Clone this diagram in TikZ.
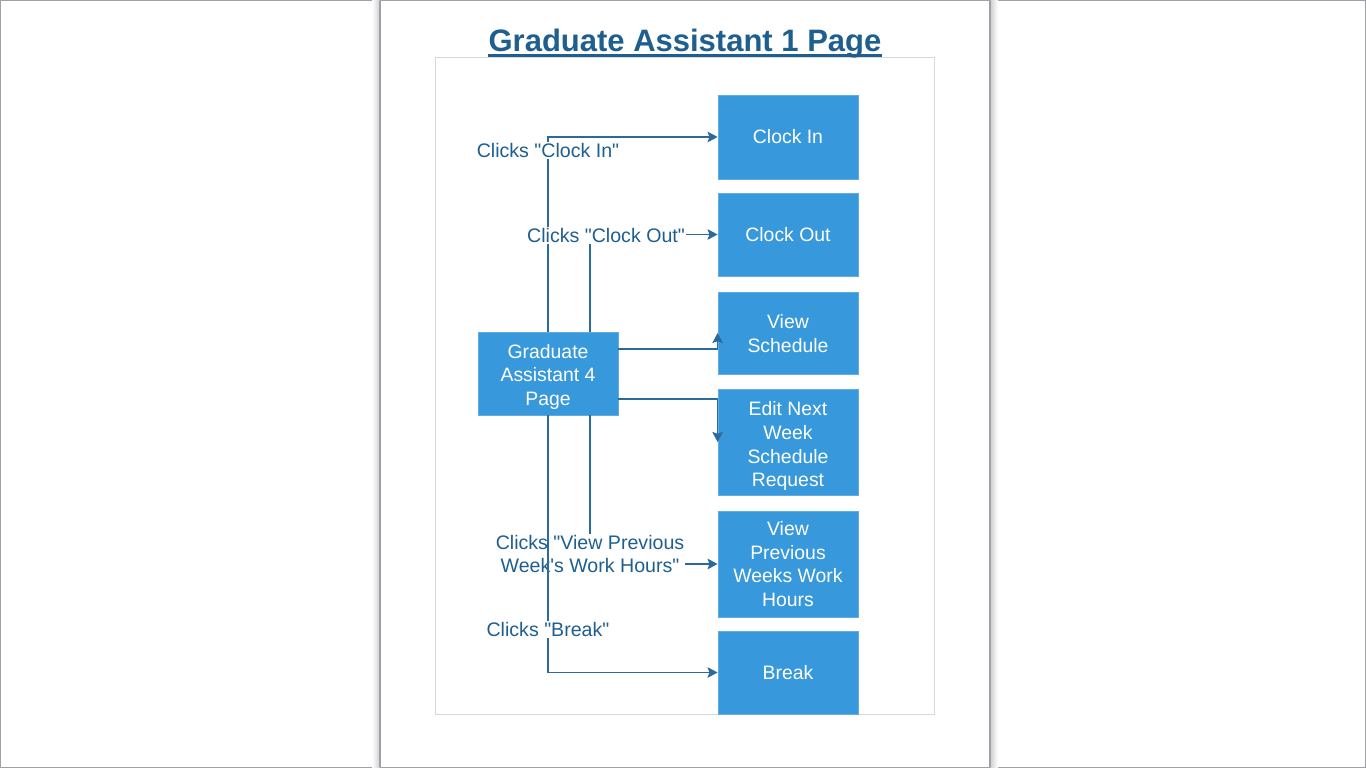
\documentclass[tikz,border=0pt]{standalone}
\usepackage{fontspec}
\setmainfont{Liberation Sans}
\usetikzlibrary{arrows.meta}
\definecolor{boxblue}{RGB}{55,152,219}
\definecolor{linec}{RGB}{43,106,155}
\definecolor{textc}{RGB}{31,95,143}
\definecolor{pagegray}{RGB}{160,160,168}
\definecolor{framegray}{RGB}{216,216,216}
\newcommand\qd{\textquotedbl}
\newcommand\lines[2]{\raisebox{#1}[\height][\depth]{\begin{tabular}{@{}c@{}}#2\end{tabular}}}
\begin{document}
\begin{tikzpicture}[x=1pt,y=-1pt,
  box/.style={fill=boxblue, draw=boxblue!80!white, line width=0.8pt, minimum width=140pt,
    text=white, font=\fontsize{19.4}{23.7}\selectfont, align=center, inner sep=0pt},
  lbl/.style={text=textc, font=\fontsize{19.6}{23.2}\selectfont, align=center, inner sep=1pt, fill=white},
  conn/.style={draw=linec, line width=1.5pt},
  arr/.style={conn, -{Stealth[length=10pt,width=10.5pt,inset=1.8pt]}}
]
% background and page
\fill[white] (0,0) rectangle (1366,768);
\useasboundingbox (0,0) rectangle (1366,768);
\draw[pagegray, line width=1pt] (0.5,0.5) rectangle (1365.5,767.5);
\shade[left color=white, right color=black!18] (372,1) rectangle (379.5,767);
\shade[left color=black!18, right color=white] (990.5,1) rectangle (998,767);
\draw[pagegray, line width=1.2pt] (380,1) -- (380,767);
\draw[pagegray, line width=1.2pt] (990,1) -- (990,767);
\draw[framegray, line width=1pt] (435.5,57.5) rectangle (934.5,714.5);

% title
\node[font=\bfseries\fontsize{31}{36}\selectfont, text=textc, inner sep=0pt, anchor=base] (title) at (685,52) {Graduate Assistant 1 Page};
\draw[textc, line width=2.4pt] ([yshift=-3.5pt]title.base west) -- ([yshift=-3.5pt]title.base east);

% nodes
\node[box, minimum height=84pt] (ci) at (788,137) {Clock In};
\node[box, minimum height=83pt] (co) at (788,234.5) {Clock Out};
\node[box, minimum height=82pt] (vs) at (788,333) {\lines{-3pt}{View\\Schedule}};
\node[box, minimum height=106pt] (en) at (788,442) {\lines{-4.5pt}{Edit Next\\Week\\Schedule\\Request}};
\node[box, minimum height=106pt] (vp) at (788,564) {View\\Previous\\Weeks Work\\Hours};
\node[box, minimum height=83pt] (br) at (788,672.5) {Break};
\node[box, minimum height=83pt] (ga) at (548,373.5) {\lines{-3.5pt}{Graduate\\Assistant 4\\Page}};

% connectors
\draw[arr] (ga.north) |- (ci.west);
\node[lbl] (lci) at (548,150.5) {Clicks \qd Clock In\qd};
\draw[arr] ([xshift=42pt]ga.north) |- (co.west);
\node[lbl] (lco) at (606,235.5) {Clicks \qd Clock Out\qd};
\draw[arr] (ga.east |- 0,349) -| (vs.west);
\draw[arr] (ga.east |- 0,399) -| (en.west);
\draw[arr] ([xshift=42pt]ga.south) |- (vp.west);
\node[lbl] (lvp) at (590,554) {Clicks \qd View Previous\\Week\textquotesingle s Work Hours\qd};
\draw[arr] (ga.south) |- (br.west);
\node[lbl] (lbr) at (548,629.5) {Clicks \qd Break\qd};
\end{tikzpicture}
\end{document}
